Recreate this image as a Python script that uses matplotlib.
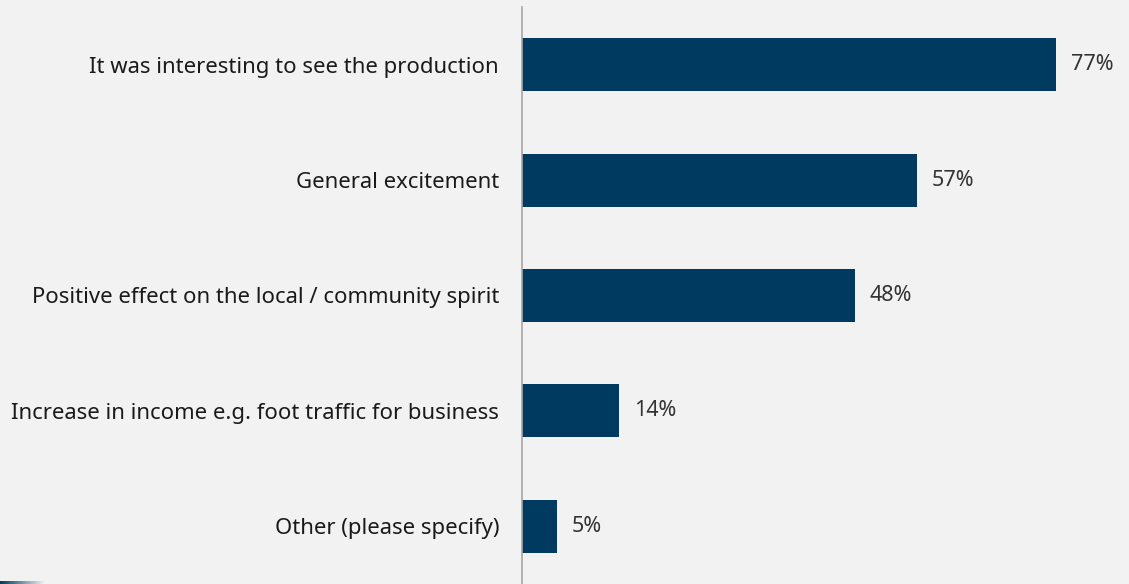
import numpy as np
import matplotlib.pyplot as plt
from matplotlib.colors import LinearSegmentedColormap

categories = [
    "It was interesting to see the production",
    "General excitement",
    "Positive effect on the local / community spirit",
    "Increase in income e.g. foot traffic for business",
    "Other (please specify)",
]
values = [77, 57, 48, 14, 5]

bg = "#f2f2f2"
navy = "#003a61"

plt.rcParams['font.family'] = ['Noto Sans', 'DejaVu Sans']

fig = plt.figure(figsize=(11.29, 5.84), dpi=100, facecolor=bg)
ax = fig.add_axes([522 / 1129, 0, 1 - 522 / 1129, 1 - 7 / 584])
ax.set_facecolor(bg)

y = np.arange(len(categories))
ax.barh(y, values, height=0.46, color=navy)
ax.set_xlim(0, 87.5)
ax.set_ylim(len(categories) - 0.5, -0.5)

for yi, v in zip(y, values):
    ax.text(v + 2.1, yi, f"{v}%", va='center', ha='left', fontsize=15.5, color="#333333")

ax.set_yticks(y)
ax.set_yticklabels(categories, fontsize=15.9, color="#1a1a1a")
ax.tick_params(axis='y', length=0, pad=16.5)
ax.set_xticks([])
for s in ['top', 'right', 'bottom']:
    ax.spines[s].set_visible(False)
ax.spines['left'].set_color("#a6a6a6")
ax.spines['left'].set_linewidth(1.2)

# faded strip in the lower left corner
strip = fig.add_axes([0, 0, 45 / 1129, 3 / 584])
cmap = LinearSegmentedColormap.from_list("fade", [navy, bg])
strip.imshow(np.linspace(0, 1, 100)[None, :], aspect='auto', cmap=cmap)
strip.axis('off')

fig.savefig("out.png", facecolor=bg)
